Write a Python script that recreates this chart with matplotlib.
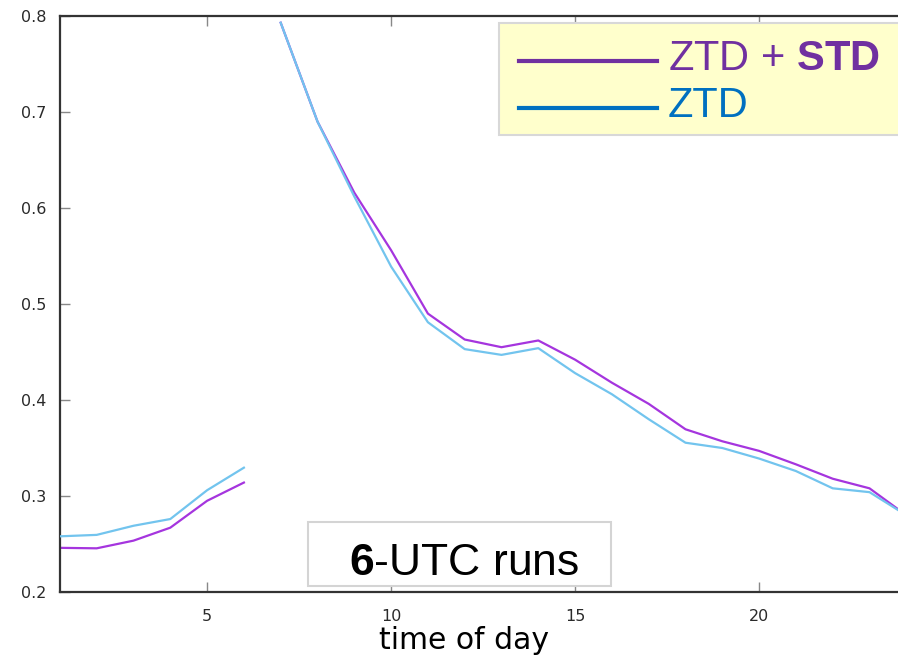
import numpy as np
import matplotlib
matplotlib.use("Agg")
import matplotlib.pyplot as plt
from matplotlib.patches import Rectangle
from matplotlib.lines import Line2D

plt.rcParams['mathtext.fontset'] = 'custom'
plt.rcParams['mathtext.rm'] = 'Liberation Sans'
plt.rcParams['mathtext.bf'] = 'Liberation Sans:bold'

# Data (hours 1..24); runs break between hour 6 and 7
hours = np.arange(1, 25)
ztd_std = [0.246, 0.2455, 0.2535, 0.267, 0.295, 0.314,
           0.793, 0.690, 0.616, 0.556, 0.490, 0.463, 0.455, 0.462,
           0.442, 0.418, 0.396, 0.3695, 0.357, 0.347, 0.333, 0.318, 0.308, 0.280]
ztd = [0.258, 0.2595, 0.269, 0.276, 0.306, 0.3295,
       0.793, 0.690, 0.612, 0.539, 0.481, 0.453, 0.447, 0.454,
       0.428, 0.406, 0.380, 0.3555, 0.350, 0.339, 0.326, 0.308, 0.304, 0.280]
break_after = 6

xticks = [5, 10, 15, 20]
yticks = [0.2, 0.3, 0.4, 0.5, 0.6, 0.7, 0.8]
ytick_labels = ['0.2', '0.3', '0.4', '0.5', '0.6', '0.7', '0.8']

W, H = 898, 659
fig = plt.figure(figsize=(W / 100, H / 100), dpi=100)
ax = fig.add_axes([59.9 / W, (H - 592) / H, 846.4 / W, 576 / H])

purple = '#A535DE'
blue = '#72C4EE'
h = np.array(hours)
s = np.array(ztd_std)
z = np.array(ztd)
for seg in (slice(0, break_after), slice(break_after, None)):
    ax.plot(h[seg], s[seg], color=purple, lw=1.6, zorder=2)
    ax.plot(h[seg], z[seg], color=blue, lw=1.6, zorder=3)

ax.set_xlim(1, 24)
ax.set_ylim(0.2, 0.8)
ax.set_xticks(xticks)
ax.set_yticks(yticks)
ax.set_yticklabels(ytick_labels)
ax.tick_params(axis='both', direction='in', length=7, width=1, color='#888888',
               labelsize=11.5, labelcolor='#2a2a2a', top=True, right=False)
ax.tick_params(axis='x', pad=12)
ax.tick_params(axis='y', pad=10)
for side in ('left', 'bottom', 'top'):
    ax.spines[side].set_color('#333333')
    ax.spines[side].set_linewidth(1.6)
ax.spines['right'].set_visible(False)


def fx(px):
    return px / W


def fy(py):
    return (H - py) / H


ax.set_xlabel('time of day', fontsize=21.5, color='black', va='baseline', ha='center')
ax.xaxis.set_label_coords(fx(464), fy(649), transform=fig.transFigure)

# Legend box
fig.patches.append(Rectangle((fx(499), fy(135)), fx(430), 112 / H,
                             transform=fig.transFigure, facecolor='#FFFFCC',
                             edgecolor='#D8D8D8', lw=1.5, zorder=5))
fig.lines.append(Line2D([fx(519), fx(657)], [fy(61), fy(61)], transform=fig.transFigure,
                        color='#7030A0', lw=3, zorder=6))
fig.lines.append(Line2D([fx(519), fx(657)], [fy(108), fy(108)], transform=fig.transFigure,
                        color='#0070C0', lw=3, zorder=6))
fig.text(fx(668), fy(70), r'ZTD + $\mathbf{STD}$', fontsize=30, family='Liberation Sans',
         color='#7030A0', va='baseline', ha='left', zorder=7)
fig.text(fx(668), fy(116.7), 'ZTD', fontsize=30, family='Liberation Sans',
         color='#0070C0', va='baseline', ha='left', zorder=7)

# 6-UTC runs box
fig.patches.append(Rectangle((fx(308), fy(586)), fx(611) - fx(308), 64 / H,
                             transform=fig.transFigure, facecolor='white',
                             edgecolor='#D4D4D4', lw=1.5, zorder=5))
fig.text(fx(349), fy(575), r'$\mathbf{6}$-UTC runs', fontsize=32, family='Liberation Sans',
         color='black', va='baseline', ha='left', zorder=7)

fig.savefig('out.png', dpi=100)
